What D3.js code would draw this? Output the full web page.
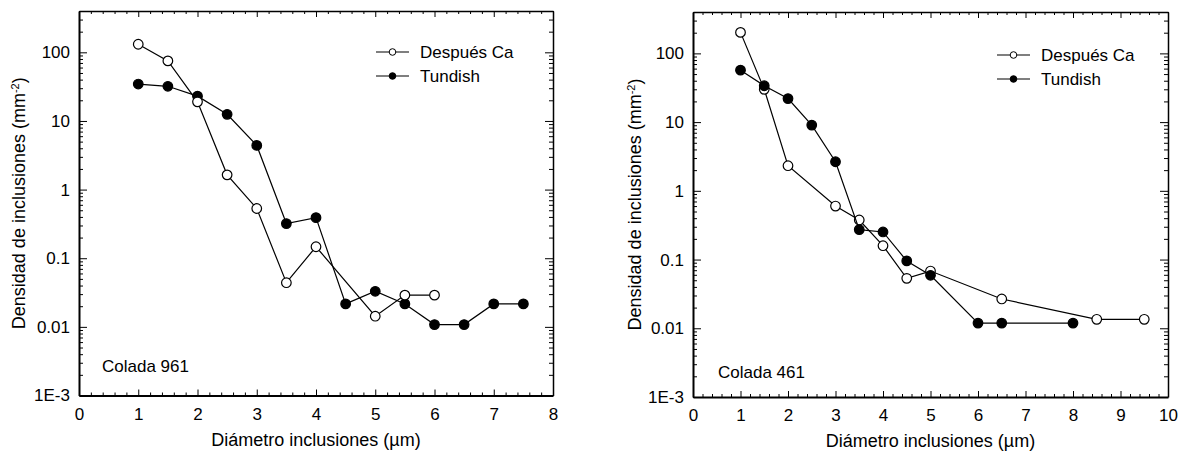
<!DOCTYPE html>
<html>
<head>
<meta charset="utf-8">
<script src="https://cdn.jsdelivr.net/npm/d3@7"></script>
<style>
  body { margin: 0; background: #fff; }
  svg text { font-family: "Liberation Sans", Arial, sans-serif; fill: #000; }
  .axis path, .axis line { stroke: #000; }
</style>
</head>
<body>
<div id="chart"></div>
<script>
// ---- data ----
const yTickValues = [1e-3, 0.01, 0.1, 1, 10, 100];
const yTickLabels = ["1E-3", "0.01", "0.1", "1", "10", "100"];

// Colada 961
const c961DespuesX = [1, 1.5, 2, 2.5, 3, 3.5, 4, 5, 5.5, 6];
const c961DespuesY = [131, 75, 19, 1.64, 0.53, 0.044, 0.147, 0.0143, 0.029, 0.029];
const c961TundishX = [1, 1.5, 2, 2.5, 3, 3.5, 4, 4.5, 5, 5.5, 6, 6.5, 7, 7.5];
const c961TundishY = [34.5, 32, 23, 12.5, 4.4, 0.32, 0.39, 0.0216, 0.033, 0.0216, 0.0108, 0.0108, 0.0216, 0.0216];

// Colada 461
const c461DespuesX = [1, 1.5, 2, 3, 3.5, 4, 4.5, 5, 6.5, 8.5, 9.5];
const c461DespuesY = [202, 30, 2.32, 0.60, 0.376, 0.159, 0.0533, 0.068, 0.0267, 0.0135, 0.0135];
const c461TundishX = [1, 1.5, 2, 2.5, 3, 3.5, 4, 4.5, 5, 6, 6.5, 8];
const c461TundishY = [57, 33.8, 22, 9.05, 2.65, 0.273, 0.252, 0.0955, 0.059, 0.0119, 0.0119, 0.0119];

const seriesNames = ["Después Ca", "Tundish"];

function zip(xs, ys) { return xs.map((x, i) => ({x: x, y: ys[i]})); }

const svg = d3.select("#chart").append("svg")
  .attr("width", 1187)
  .attr("height", 454);

function drawChart(cfg) {
  const g = svg.append("g")
    .attr("transform", "translate(" + cfg.left + "," + cfg.top + ")");
  const w = cfg.width, h = cfg.height;

  const x = d3.scaleLinear().domain([0, cfg.xMax]).range([0, w]);
  const y = d3.scaleLog().domain([1e-3, 400]).range([h, 0]);

  const xMajor = d3.range(0, cfg.xMax + 0.001, 1);
  const xMinor = d3.range(0, cfg.xMax + 0.001, 0.2).filter(v => Math.abs(v - Math.round(v)) > 0.01);
  const yMinor = [];
  [1e-3, 0.01, 0.1, 1, 10, 100].forEach(d => {
    for (let k = 2; k <= 9; k++) if (d * k <= 400) yMinor.push(d * k);
  });

  // minor ticks (all four sides)
  g.append("g").attr("class", "axis").attr("transform", "translate(0," + h + ")")
    .call(d3.axisBottom(x).tickValues(xMinor).tickSize(-3).tickFormat(""));
  g.append("g").attr("class", "axis")
    .call(d3.axisTop(x).tickValues(xMinor).tickSize(-3).tickFormat(""));
  g.append("g").attr("class", "axis")
    .call(d3.axisLeft(y).tickValues(yMinor).tickSize(-4).tickFormat(""));
  g.append("g").attr("class", "axis").attr("transform", "translate(" + w + ",0)")
    .call(d3.axisRight(y).tickValues(yMinor).tickSize(-4).tickFormat(""));
  g.selectAll(".axis path").remove();

  // major ticks
  const xAx = g.append("g").attr("class", "axis x-axis").attr("transform", "translate(0," + h + ")")
    .call(d3.axisBottom(x).tickValues(xMajor).tickSize(-6).tickSizeOuter(0).tickPadding(8).tickFormat(d3.format("d")));
  const xTop = g.append("g").attr("class", "axis")
    .call(d3.axisTop(x).tickValues(xMajor).tickSize(-6).tickSizeOuter(0).tickFormat(""));
  const yAx = g.append("g").attr("class", "axis y-axis")
    .call(d3.axisLeft(y).tickValues(yTickValues).tickSize(-8).tickSizeOuter(0).tickPadding(9)
      .tickFormat((d, i) => yTickLabels[i]));
  const yRight = g.append("g").attr("class", "axis").attr("transform", "translate(" + w + ",0)")
    .call(d3.axisRight(y).tickValues(yTickValues).tickSize(-8).tickSizeOuter(0).tickFormat(""));

  [xAx, xTop, yAx, yRight].forEach(a => {
    a.selectAll("text").style("font-size", "17px");
    a.select(".domain").attr("stroke-width", 1.5);
  });
  xAx.select(".domain").attr("stroke-width", 2);
  yAx.select(".domain").attr("stroke-width", 2);
  xAx.selectAll("text").attr("dy", "0.95em");

  // axis titles
  g.append("text")
    .attr("x", w / 2).attr("y", h + 50)
    .attr("text-anchor", "middle")
    .style("font-size", "18px")
    .text("Diámetro inclusiones (µm)");

  const yt = g.append("text")
    .attr("transform", "translate(" + (-cfg.yTitleOffset) + "," + (h / 2) + ") rotate(-90)")
    .attr("text-anchor", "middle")
    .style("font-size", "18px");
  yt.append("tspan").text("Densidad de inclusiones (mm");
  yt.append("tspan").attr("baseline-shift", "super").style("font-size", "11px").text("-2");
  yt.append("tspan").text(")");

  // series
  const line = d3.line().x(d => x(d.x)).y(d => y(d.y));
  cfg.series.forEach(s => {
    g.append("path")
      .datum(s.data)
      .attr("d", line)
      .attr("fill", "none")
      .attr("stroke", "#000")
      .attr("stroke-width", 1.2);
    g.selectAll(null)
      .data(s.data)
      .enter().append("circle")
      .attr("cx", d => x(d.x))
      .attr("cy", d => y(d.y))
      .attr("r", 4.8)
      .attr("fill", s.filled ? "#000" : "#fff")
      .attr("stroke", "#000")
      .attr("stroke-width", 1.2);
  });

  // legend
  const leg = g.append("g").attr("transform", "translate(" + cfg.legendX + "," + cfg.legendY + ")");
  seriesNames.forEach((name, i) => {
    const row = leg.append("g").attr("transform", "translate(0," + (i * 24) + ")");
    row.append("line").attr("x1", 0).attr("x2", 33).attr("y1", 0).attr("y2", 0)
      .attr("stroke", "#000").attr("stroke-width", 1.2);
    row.append("circle").attr("cx", 16.5).attr("cy", 0).attr("r", 3.3)
      .attr("fill", i === 0 ? "#fff" : "#000")
      .attr("stroke", "#000").attr("stroke-width", 1);
    row.append("text").attr("x", 44).attr("y", 0).attr("dy", "0.35em")
      .style("font-size", "17px").text(name);
  });

  g.append("text")
    .attr("x", cfg.labelX).attr("y", cfg.labelY)
    .style("font-size", "17px")
    .text(cfg.label);
}

drawChart({
  left: 79, top: 11, width: 474, height: 384.5, xMax: 8,
  yTitleOffset: 54,
  legendX: 297, legendY: 41,
  labelX: 23, labelY: 361, label: "Colada 961",
  series: [
    {data: zip(c961TundishX, c961TundishY), filled: true},
    {data: zip(c961DespuesX, c961DespuesY), filled: false}
  ]
});

drawChart({
  left: 693, top: 12, width: 475, height: 385, xMax: 10,
  yTitleOffset: 52,
  legendX: 304, legendY: 43,
  labelX: 25, labelY: 366, label: "Colada 461",
  series: [
    {data: zip(c461DespuesX, c461DespuesY), filled: false},
    {data: zip(c461TundishX, c461TundishY), filled: true}
  ]
});
</script>
</body>
</html>
